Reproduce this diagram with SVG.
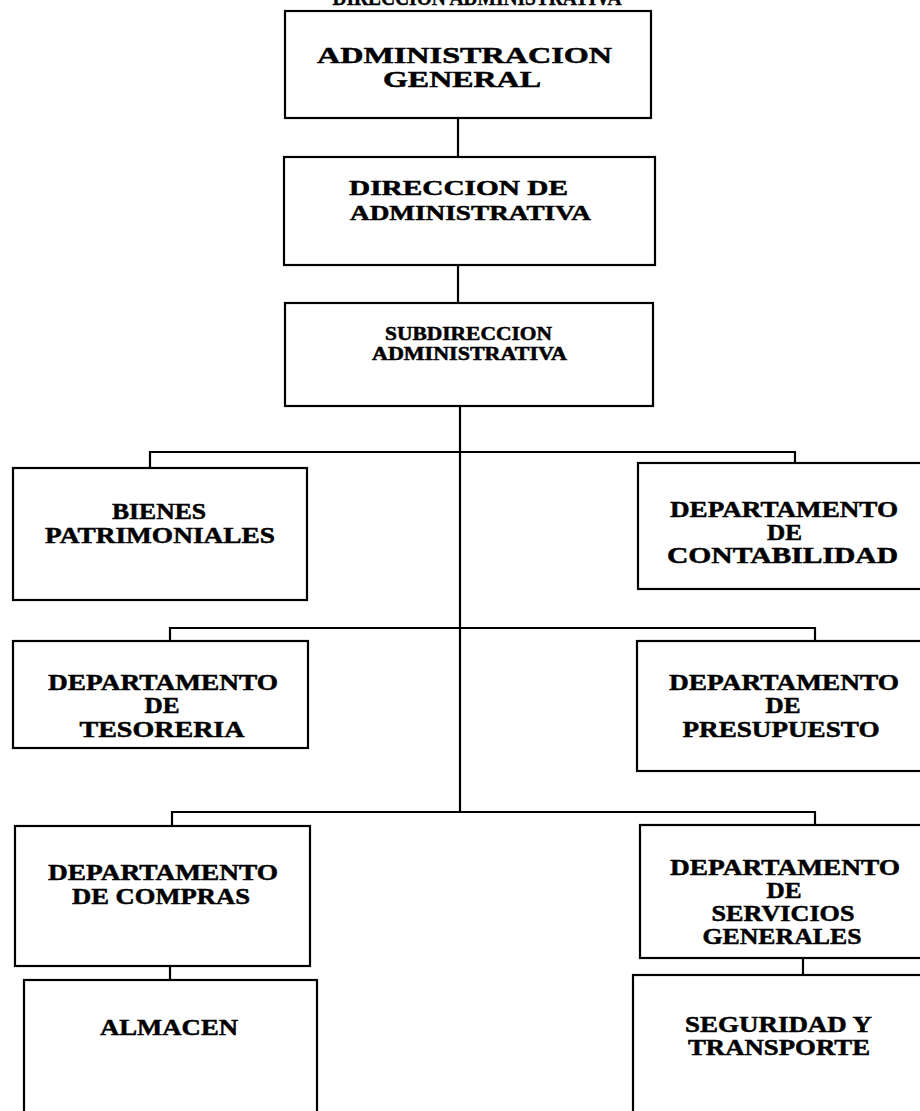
<svg xmlns="http://www.w3.org/2000/svg" width="920" height="1111" viewBox="0 0 920 1111">
<style>
.box{fill:#fff;stroke:#000;stroke-width:2.2}
.ln{fill:none;stroke:#000;stroke-width:2.2}
text{font-family:"Liberation Serif","Times New Roman",serif;font-weight:bold;fill:#000;stroke:#000;stroke-width:0.5;text-anchor:middle}
.t1{font-size:24px}
.t2{font-size:22px}
.t3{font-size:18px}
.t4{font-size:23px}
</style>
<rect width="920" height="1111" fill="#fff"/>
<text class="t4" x="477" y="5" textLength="289" lengthAdjust="spacingAndGlyphs">DIRECCION ADMINISTRATIVA</text>
<g id="connectors">
<path class="ln" d="M458,118 V157"/>
<path class="ln" d="M458,265 V303"/>
<path class="ln" d="M460,406 V812"/>
<path class="ln" d="M150,468 V452 H795 V463"/>
<path class="ln" d="M170,641 V628 H815 V641"/>
<path class="ln" d="M172,826 V812 H815 V825"/>
<path class="ln" d="M170,966 V980"/>
<path class="ln" d="M803,958 V975"/>
<path class="ln" d="M857,1108 H920"/>
</g>
<g id="n-admin-general">
<rect class="box" x="285" y="11" width="366" height="107"/>
<text class="t1" x="464.5" y="63" textLength="295" lengthAdjust="spacingAndGlyphs">ADMINISTRACION</text>
<text class="t1" x="462" y="87" textLength="158" lengthAdjust="spacingAndGlyphs">GENERAL</text>
</g>
<g id="n-direccion">
<rect class="box" x="284" y="157" width="371" height="108"/>
<text class="t2" x="458.5" y="195" textLength="219" lengthAdjust="spacingAndGlyphs">DIRECCION DE</text>
<text class="t2" x="470.5" y="220" textLength="241" lengthAdjust="spacingAndGlyphs">ADMINISTRATIVA</text>
</g>
<g id="n-subdireccion">
<rect class="box" x="285" y="303" width="368" height="103"/>
<text class="t3" x="468.5" y="340" textLength="167" lengthAdjust="spacingAndGlyphs">SUBDIRECCION</text>
<text class="t3" x="469.5" y="360" textLength="195" lengthAdjust="spacingAndGlyphs">ADMINISTRATIVA</text>
</g>
<g id="n-bienes">
<rect class="box" x="13" y="468" width="294" height="132"/>
<text class="t4" x="159" y="519" textLength="94" lengthAdjust="spacingAndGlyphs">BIENES</text>
<text class="t4" x="160" y="543" textLength="230" lengthAdjust="spacingAndGlyphs">PATRIMONIALES</text>
</g>
<g id="n-contabilidad">
<rect class="box" x="638" y="463" width="290" height="126"/>
<text class="t4" x="784" y="517" textLength="228" lengthAdjust="spacingAndGlyphs">DEPARTAMENTO</text>
<text class="t4" x="784.5" y="540" textLength="35" lengthAdjust="spacingAndGlyphs">DE</text>
<text class="t4" x="782.5" y="563" textLength="231" lengthAdjust="spacingAndGlyphs">CONTABILIDAD</text>
</g>
<g id="n-tesoreria">
<rect class="box" x="13" y="641" width="295" height="107"/>
<text class="t4" x="163" y="690" textLength="230" lengthAdjust="spacingAndGlyphs">DEPARTAMENTO</text>
<text class="t4" x="162" y="713" textLength="35" lengthAdjust="spacingAndGlyphs">DE</text>
<text class="t4" x="162" y="737" textLength="165" lengthAdjust="spacingAndGlyphs">TESORERIA</text>
</g>
<g id="n-presupuesto">
<rect class="box" x="637" y="641" width="291" height="130"/>
<text class="t4" x="784" y="690" textLength="230" lengthAdjust="spacingAndGlyphs">DEPARTAMENTO</text>
<text class="t4" x="783" y="713" textLength="35" lengthAdjust="spacingAndGlyphs">DE</text>
<text class="t4" x="781" y="737" textLength="197" lengthAdjust="spacingAndGlyphs">PRESUPUESTO</text>
</g>
<g id="n-compras">
<rect class="box" x="15" y="826" width="295" height="140"/>
<text class="t4" x="163" y="880" textLength="230" lengthAdjust="spacingAndGlyphs">DEPARTAMENTO</text>
<text class="t4" x="161" y="904" textLength="178" lengthAdjust="spacingAndGlyphs">DE COMPRAS</text>
</g>
<g id="n-servicios">
<rect class="box" x="640" y="825" width="288" height="133"/>
<text class="t4" x="785" y="875" textLength="230" lengthAdjust="spacingAndGlyphs">DEPARTAMENTO</text>
<text class="t4" x="784" y="898" textLength="35" lengthAdjust="spacingAndGlyphs">DE</text>
<text class="t4" x="783" y="921" textLength="143" lengthAdjust="spacingAndGlyphs">SERVICIOS</text>
<text class="t4" x="782" y="944" textLength="159" lengthAdjust="spacingAndGlyphs">GENERALES</text>
</g>
<g id="n-almacen">
<rect class="box" x="24" y="980" width="293" height="140"/>
<text class="t4" x="169" y="1035" textLength="138" lengthAdjust="spacingAndGlyphs">ALMACEN</text>
</g>
<g id="n-seguridad">
<rect class="box" x="633" y="975" width="295" height="145"/>
<text class="t4" x="778.5" y="1032" textLength="187" lengthAdjust="spacingAndGlyphs">SEGURIDAD Y</text>
<text class="t4" x="779" y="1055" textLength="182" lengthAdjust="spacingAndGlyphs">TRANSPORTE</text>
</g>
</svg>
